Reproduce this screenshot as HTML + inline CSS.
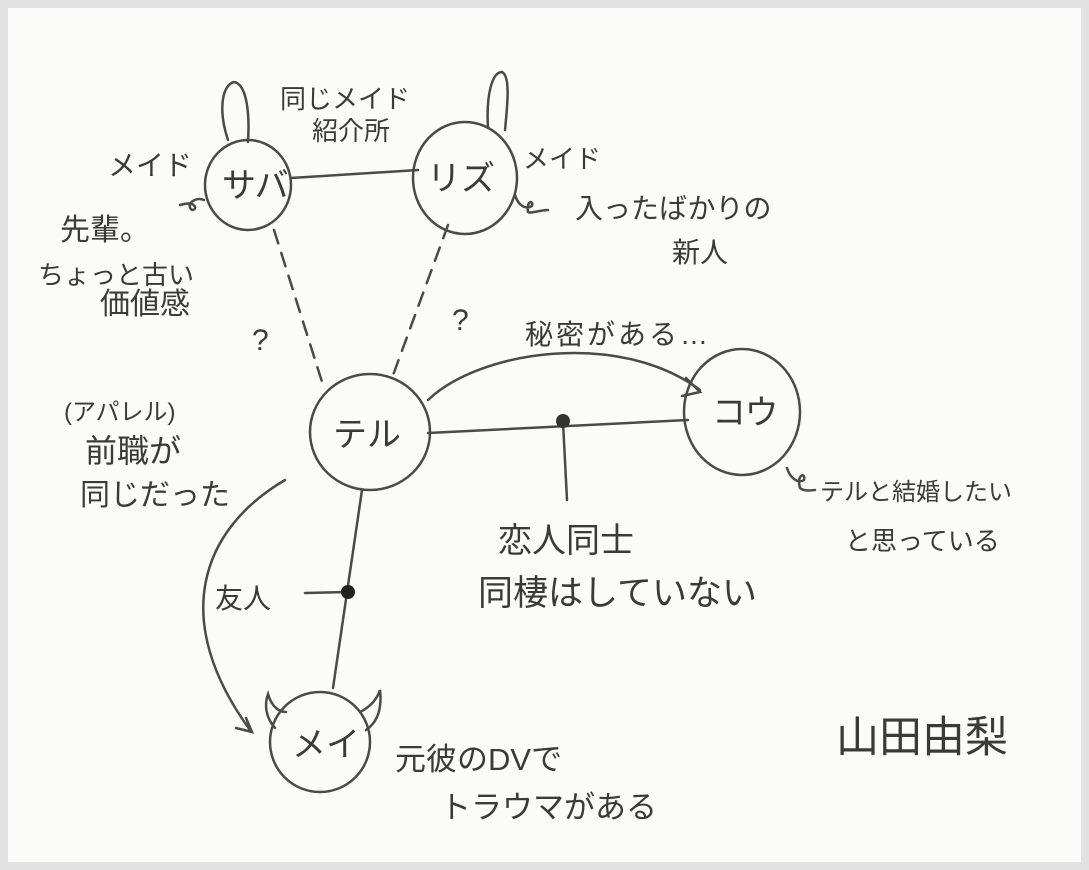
<!DOCTYPE html>
<html><head><meta charset="utf-8"><style>
html,body{margin:0;padding:0;background:#e4e4e4;}
svg{display:block;}
text{font-family:"Liberation Sans","Noto Sans CJK JP",sans-serif;fill:#3a3a3a;}
</style></head><body>
<svg width="1089" height="870" viewBox="0 0 1089 870" xmlns="http://www.w3.org/2000/svg">
<rect x="0" y="0" width="1089" height="870" fill="#e2e2e2"/>
<rect x="8" y="8" width="1073" height="854" fill="#fbfbf9"/>
<g fill="none" stroke="#4a4a4a" stroke-width="2.5" stroke-linecap="round">
<path d="M228,140 C218,110 222,85 234,82 C246,84 250,110 248,142"/>
<path d="M488,128 C486,95 492,72 502,72 C510,76 508,100 505,130"/>
<ellipse cx="248" cy="185" rx="43" ry="45"/>
<ellipse cx="465" cy="178" rx="52" ry="56"/>
<ellipse cx="370" cy="432" rx="60" ry="58"/>
<ellipse cx="742" cy="412" rx="58" ry="63"/>
<ellipse cx="320" cy="742" rx="50" ry="50"/>
<path d="M275,728 C266,718 264,705 268,694 C272,708 280,712 286,712"/>
<path d="M360,712 C368,708 376,702 380,690 C382,708 378,722 366,730"/>
<path d="M291,178 L418,170"/>
<path d="M274,230 L323,385" stroke-dasharray="14,10"/>
<path d="M448,225 L392,378" stroke-dasharray="14,10"/>
<path d="M428,433 L688,420"/>
<path d="M563,422 L567,500"/>
<path d="M428,400 C480,350 620,330 700,390"/>
<path d="M686,378 L700,392 L682,396"/>
<path d="M362,490 L333,688"/>
<path d="M305,593 L347,592"/>
<path d="M285,480 C200,530 170,620 250,730"/>
<path d="M236,728 L252,732 L246,718"/>
<path d="M204,200 C195,196 185,205 192,210 C198,210 196,200 180,205"/>
<path d="M515,195 C518,205 525,210 532,206 C534,200 526,200 528,212 C530,214 540,210 548,210"/>
<path d="M787,468 C790,478 798,484 804,480 C806,472 796,474 800,488 C805,492 812,490 815,490"/>
</g>
<circle cx="563" cy="421" r="7" fill="#333"/>
<circle cx="348" cy="592" r="7" fill="#222"/>
<g font-size="34">
<text x="222" y="197">サバ</text>
<text x="427" y="190">リズ</text>
<text x="333" y="446">テル</text>
<text x="712" y="424" fill="#666">コウ</text>
<text x="292" y="756">メイ</text>
</g>
<g font-size="26">
<text x="108" y="175" font-size="28">メイド</text>
<text x="280" y="108">同じメイド</text>
<text x="312" y="140">紹介所</text>
<text x="523" y="168">メイド</text>
<text x="60" y="240" font-size="30">先輩。</text>
<text x="38" y="284">ちょっと古い</text>
<text x="100" y="314" font-size="30">価値感</text>
<text x="575" y="218" font-size="28">入ったばかりの</text>
<text x="672" y="262" font-size="28">新人</text>
<text x="252" y="350" font-size="30">?</text>
<text x="452" y="330" font-size="30">?</text>
<text x="525" y="344" font-size="28" letter-spacing="3">秘密がある…</text>
<text x="64" y="420" font-size="24">(アパレル)</text>
<text x="85" y="462" font-size="32">前職が</text>
<text x="80" y="505" font-size="30">同じだった</text>
<text x="498" y="552" font-size="34" fill="#666">恋人同士</text>
<text x="478" y="605" font-size="35" fill="#666">同棲はしていない</text>
<text x="820" y="500" font-size="24">テルと結婚したい</text>
<text x="845" y="550" font-size="26">と思っている</text>
<text x="215" y="608" font-size="28">友人</text>
<text x="395" y="770" font-size="31">元彼のDVで</text>
<text x="440" y="818" font-size="31">トラウマがある</text>
<text x="836" y="752" font-size="43" fill="#222">山田由梨</text>
</g>
</svg>
</body></html>
